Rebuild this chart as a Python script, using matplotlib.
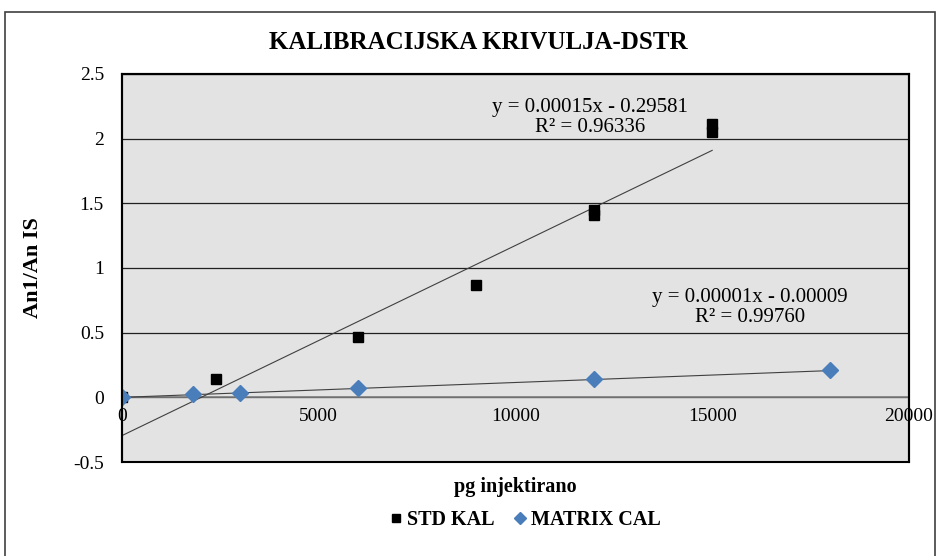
import numpy as np
import matplotlib
matplotlib.use("Agg")
import matplotlib.pyplot as plt
from matplotlib.patches import Rectangle

# data
std_x = [0, 2400, 6000, 9000, 12000, 12000, 15000, 15000]
std_y = [0, 0.14, 0.47, 0.87, 1.45, 1.41, 2.11, 2.05]
mat_x = [0, 1800, 3000, 6000, 12000, 18000]
mat_y = [0, 0.023, 0.03, 0.07, 0.14, 0.21]
std_fit = (0.000147, -0.29581)      # slope, intercept (as drawn)
mat_fit = (0.0000115, -0.00009)
std_eq = "y = 0.00015x - 0.29581\nR² = 0.96336"
mat_eq = "y = 0.00001x - 0.00009\nR² = 0.99760"

plt.rcParams["font.family"] = ["Liberation Serif", "DejaVu Serif"]

fig = plt.figure(figsize=(9.38, 5.56), dpi=100)
ax = fig.add_axes([0.130, 0.169, 0.839, 0.698])
ax.set_facecolor("#e3e3e3")

# trendlines
xs = np.array([0, 15000])
ax.plot(xs, std_fit[0] * xs + std_fit[1], color="#404040", lw=0.8, zorder=3)
xm = np.array([0, 18000])
ax.plot(xm, mat_fit[0] * xm + mat_fit[1], color="#404040", lw=0.8, zorder=3)

ax.plot(std_x, std_y, ls="none", marker="s", ms=7, color="black",
        label="STD KAL", zorder=4)
ax.plot(mat_x, mat_y, ls="none", marker="D", ms=8, color="#4a7ebb",
        label="MATRIX CAL", zorder=5)

ax.text(11890, 2.166, std_eq, ha="center", va="center", fontsize=15,
        linespacing=1.05)
ax.text(15960, 0.695, mat_eq, ha="center", va="center", fontsize=15,
        linespacing=1.05)

ax.set_xlim(0, 20000)
ax.set_ylim(-0.5, 2.5)
ax.set_xticks([0, 5000, 10000, 15000, 20000])
ax.set_yticks([-0.5, 0, 0.5, 1, 1.5, 2, 2.5])
ax.set_yticklabels(["-0.5", "0", "0.5", "1", "1.5", "2", "2.5"])
ax.yaxis.grid(True, color="#202020", lw=0.9)
ax.set_axisbelow(True)
ax.tick_params(axis="both", length=0, labelsize=14)
ax.tick_params(axis="y", pad=13)
ax.tick_params(axis="x", pad=8)

ax.spines["bottom"].set_position(("data", 0))
ax.spines["bottom"].set_color("#808080")
ax.spines["bottom"].set_linewidth(1.2)
for s in ["top", "right", "left"]:
    ax.spines[s].set_color("black")
    ax.spines[s].set_linewidth(1.5)
ax.add_patch(Rectangle((0, 0), 1, 1, transform=ax.transAxes, fill=False,
                       ec="black", lw=1.5, clip_on=False, zorder=6))

ax.set_ylabel("An1/An IS", fontsize=16, fontweight="bold", labelpad=22)
fig.text(0.549, 0.124, "pg injektirano", ha="center", va="center",
         fontsize=14.5, fontweight="bold")
fig.suptitle("KALIBRACIJSKA KRIVULJA-DSTR", x=0.510, y=0.945,
             fontsize=18, fontweight="bold")

fig.legend(loc="center", bbox_to_anchor=(0.558, 0.064), ncol=2, frameon=False,
           prop={"size": 14.5, "weight": "bold"}, handletextpad=0.05,
           columnspacing=0.8, handlelength=1.0, markerscale=0.75)

fig.add_artist(Rectangle((5 / 938, -0.02), 930 / 938, 1 - 12 / 556 + 0.02,
                         transform=fig.transFigure, fill=False, ec="#404040",
                         lw=1.2))

fig.savefig("out.png", dpi=100)
